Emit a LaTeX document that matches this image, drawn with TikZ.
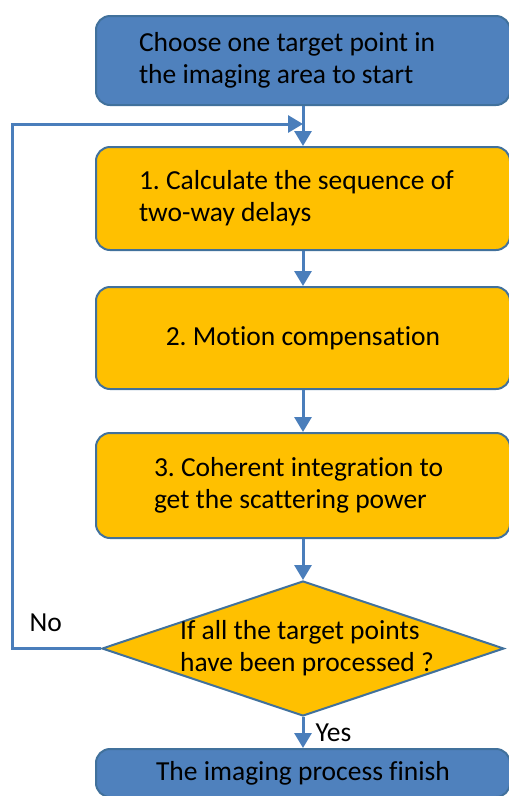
\documentclass[tikz,border=0pt]{standalone}
\usepackage{fontspec}
\setmainfont{Carlito}[Ligatures=NoCommon]
\usetikzlibrary{arrows.meta,positioning,shapes.geometric}
\definecolor{boxblue}{HTML}{4F81BD}
\definecolor{edgeblue}{HTML}{41719C}
\definecolor{stepfill}{HTML}{FFC000}
\definecolor{arrowblue}{HTML}{4A7EBB}
\frenchspacing

\begin{document}
\begin{tikzpicture}[x=1pt,y=1pt,>={Triangle[length=15pt,width=17pt]},
  box/.style={draw=edgeblue,line width=2pt,rounded corners=14pt,
  minimum width=414pt,font=\fontsize{27.5}{32}\selectfont,align=flush left,inner sep=0pt},
  startbox/.style={box,fill=boxblue},
  stepbox/.style={box,fill=stepfill},
  decide/.style={diamond,draw=edgeblue,line width=2pt,fill=stepfill,
  minimum width=402pt,minimum height=135pt,inner sep=0pt},
  tag/.style={font=\fontsize{27.5}{32}\selectfont,inner sep=0pt},
  flow/.style={->,draw=arrowblue,line width=3pt}]
\path[use as bounding box,clip] (0,0) rectangle (509,-796);
\node[startbox,minimum height=89pt,text width=328pt] (start) at (303,-60.5)
  {Choose one target point in\\the imaging area to start};
\node[stepbox,minimum height=103pt,text width=328pt,below=40pt of start] (step1)
  {1. Calculate the sequence of\\two-way delays};
\node[stepbox,minimum height=102pt,align=center,below=35pt of step1] (step2)
  {2. Motion compensation};
\node[stepbox,minimum height=105pt,text width=298pt,below=42pt of step2] (step3)
  {3. Coherent integration to\\get the scattering power};
\node[decide,below=41pt of step3,
  label={[tag,align=left,xshift=4pt]center:If all the target points\\have been processed ?}] (check) {};
\node[startbox,minimum height=48pt,align=center,below=31pt of check] (finish)
  {The imaging process finish};
\coordinate (back) at ([xshift=-89pt]check.west);
\draw[flow] (start) -- (step1);
\draw[flow] (step1) -- (step2);
\draw[flow] (step2) -- (step3);
\draw[flow] (step3) -- (check);
\draw[flow] (check) -- node[tag,right=11pt]{Yes} (finish);
\draw[flow] (check.west) -- node[tag,pos=0.62,above=15pt]{No} (back)
  |- ([yshift=22pt]step1.north);
\end{tikzpicture}
\end{document}
